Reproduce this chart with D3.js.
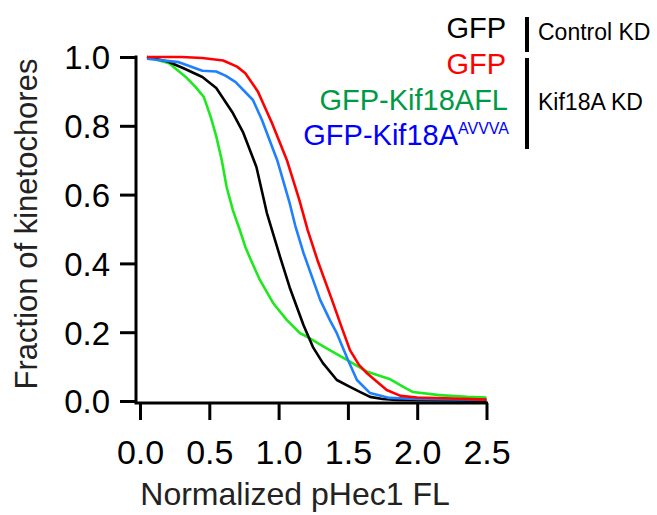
<!DOCTYPE html>
<html>
<head>
<meta charset="utf-8">
<script src="https://cdn.jsdelivr.net/npm/d3@7"></script>
<style>
  body { margin: 0; background: #fff; }
  text { font-family: "Liberation Sans", Arial, sans-serif; }
</style>
</head>
<body>
<script>
// ---- data ----
const ctrlX = [0.05, 0.2, 0.31, 0.45, 0.55, 0.67, 0.745, 0.84, 0.915, 1.01, 1.08, 1.18, 1.25, 1.32, 1.42, 1.515, 1.59, 1.66, 1.75, 1.85, 2.0, 2.5];
const ctrlY = [1.0, 0.987, 0.968, 0.942, 0.91, 0.837, 0.78, 0.68, 0.547, 0.42, 0.33, 0.22, 0.155, 0.11, 0.061, 0.041, 0.026, 0.012, 0.006, 0.003, 0.002, 0.001];

const gfpX = [0.05, 0.3, 0.45, 0.6, 0.7, 0.76, 0.85, 0.91, 0.95, 1.0, 1.06, 1.15, 1.21, 1.28, 1.385, 1.45, 1.515, 1.58, 1.64, 1.78, 1.88, 2.0, 2.2, 2.5];
const gfpY = [1.0, 1.0, 0.997, 0.99, 0.972, 0.953, 0.9, 0.846, 0.81, 0.76, 0.70, 0.584, 0.497, 0.41, 0.294, 0.22, 0.148, 0.105, 0.08, 0.032, 0.015, 0.01, 0.008, 0.004];

const flX = [0.05, 0.21, 0.33, 0.40, 0.46, 0.51, 0.55, 0.59, 0.625, 0.67, 0.72, 0.76, 0.80, 0.865, 0.96, 1.06, 1.155, 1.21, 1.35, 1.49, 1.64, 1.80, 1.90, 1.97, 2.16, 2.36, 2.5];
const flY = [1.0, 0.982, 0.942, 0.913, 0.884, 0.826, 0.77, 0.70, 0.622, 0.555, 0.497, 0.448, 0.41, 0.352, 0.285, 0.235, 0.197, 0.186, 0.152, 0.12, 0.085, 0.064, 0.041, 0.026, 0.017, 0.012, 0.01];

const avvvaX = [0.05, 0.28, 0.45, 0.55, 0.62, 0.69, 0.815, 0.88, 0.99, 1.08, 1.12, 1.18, 1.30, 1.37, 1.42, 1.50, 1.565, 1.66, 1.80, 2.0, 2.5];
const avvvaY = [0.995, 0.985, 0.96, 0.958, 0.945, 0.927, 0.875, 0.817, 0.70, 0.575, 0.51, 0.43, 0.294, 0.235, 0.197, 0.12, 0.061, 0.023, 0.009, 0.006, 0.004];

const xTicks = [0, 0.5, 1.0, 1.5, 2.0, 2.5];
const yTicks = [0, 0.2, 0.4, 0.6, 0.8, 1.0];

const series = [
    { name: "ctrl", xs: ctrlX, ys: ctrlY, color: "#000000" },
    { name: "gfp", xs: gfpX, ys: gfpY, color: "#ff0000" },
    { name: "fl", xs: flX, ys: flY, color: "#1ee81e" },
    { name: "avvva", xs: avvvaX, ys: avvvaY, color: "#1f80ff" }
];

const svg = d3.select("body").append("svg").attr("width", 657).attr("height", 515);

//scales
const x = d3.scaleLinear().domain([0, 2.5]).range([140, 486.5]);
const y = d3.scaleLinear().domain([0, 1]).range([401, 57]);
const axisY = 403;
const axisX = 136;

//curves (drawn first, axes over them)
const line = d3.line().x(d => x(d[0])).y(d => y(d[1]));
const order = ["fl", "ctrl", "avvva", "gfp"];
order.forEach(n => {
    const s = series.find(d => d.name == n);
    const pts = s.xs.map((v, i) => [v, s.ys[i]]);
    svg.append("path")
        .datum(pts)
        .attr("fill", "none")
        .attr("stroke", s.color)
        .attr("stroke-width", 2.6)
        .attr("stroke-linejoin", "round")
        .attr("d", line);
});

//y axis
const gy = svg.append("g")
    .attr("transform", "translate(" + axisX + ",0)")
    .call(d3.axisLeft(y).tickValues(yTicks).tickFormat(d3.format(".1f")).tickSize(16).tickPadding(10));
gy.select(".domain").remove();
gy.selectAll("line").attr("stroke", "#000").attr("stroke-width", 3);
gy.selectAll("text").attr("font-size", 33).attr("fill", "#000").attr("dy", "0.36em");

//x axis
const gx = svg.append("g")
    .attr("transform", "translate(0," + axisY + ")")
    .call(d3.axisBottom(x).tickValues(xTicks).tickFormat(d3.format(".1f")).tickSize(17).tickPadding(20));
gx.select(".domain").remove();
gx.selectAll("line").attr("stroke", "#000").attr("stroke-width", 3);
gx.selectAll("text").attr("font-size", 34).attr("fill", "#000");

//axis lines
svg.append("path")
    .attr("fill", "none")
    .attr("stroke", "#000")
    .attr("stroke-width", 3)
    .attr("d", "M" + axisX + "," + (y(1) - 1.5) + "V" + axisY + "H" + (x(2.5) + 1.5));

//axis titles
svg.append("text")
    .attr("transform", "translate(37,224) rotate(-90)")
    .attr("text-anchor", "middle")
    .attr("font-size", 31)
    .attr("fill", "#222")
    .text("Fraction of kinetochores");

svg.append("text")
    .attr("x", 295)
    .attr("y", 505)
    .attr("text-anchor", "middle")
    .attr("font-size", 32)
    .attr("fill", "#222")
    .text("Normalized pHec1 FL");

//legend
const legendFont = 29;
svg.append("text").attr("x", 506).attr("y", 38).attr("text-anchor", "end")
    .attr("font-size", legendFont).attr("fill", "#000").text("GFP");
svg.append("text").attr("x", 506).attr("y", 74).attr("text-anchor", "end")
    .attr("font-size", legendFont).attr("fill", "#ff0000").text("GFP");
svg.append("text").attr("x", 508).attr("y", 110).attr("text-anchor", "end")
    .attr("font-size", legendFont).attr("fill", "#009a46").text("GFP-Kif18AFL");
const blue = svg.append("text").attr("x", 509).attr("y", 145).attr("text-anchor", "end")
    .attr("font-size", legendFont).attr("fill", "#0000ff");
blue.append("tspan").text("GFP-Kif18A");
blue.append("tspan").attr("font-size", 16).attr("dy", -11).text("AVVVA");

//group bars
svg.append("rect").attr("x", 525).attr("y", 17).attr("width", 4).attr("height", 35).attr("fill", "#000");
svg.append("rect").attr("x", 525).attr("y", 58).attr("width", 4).attr("height", 91).attr("fill", "#000");

svg.append("text").attr("x", 538).attr("y", 40)
    .attr("font-size", 23).attr("fill", "#000").text("Control KD");
svg.append("text").attr("x", 538).attr("y", 110)
    .attr("font-size", 23).attr("fill", "#000").text("Kif18A KD");
</script>
</body>
</html>
